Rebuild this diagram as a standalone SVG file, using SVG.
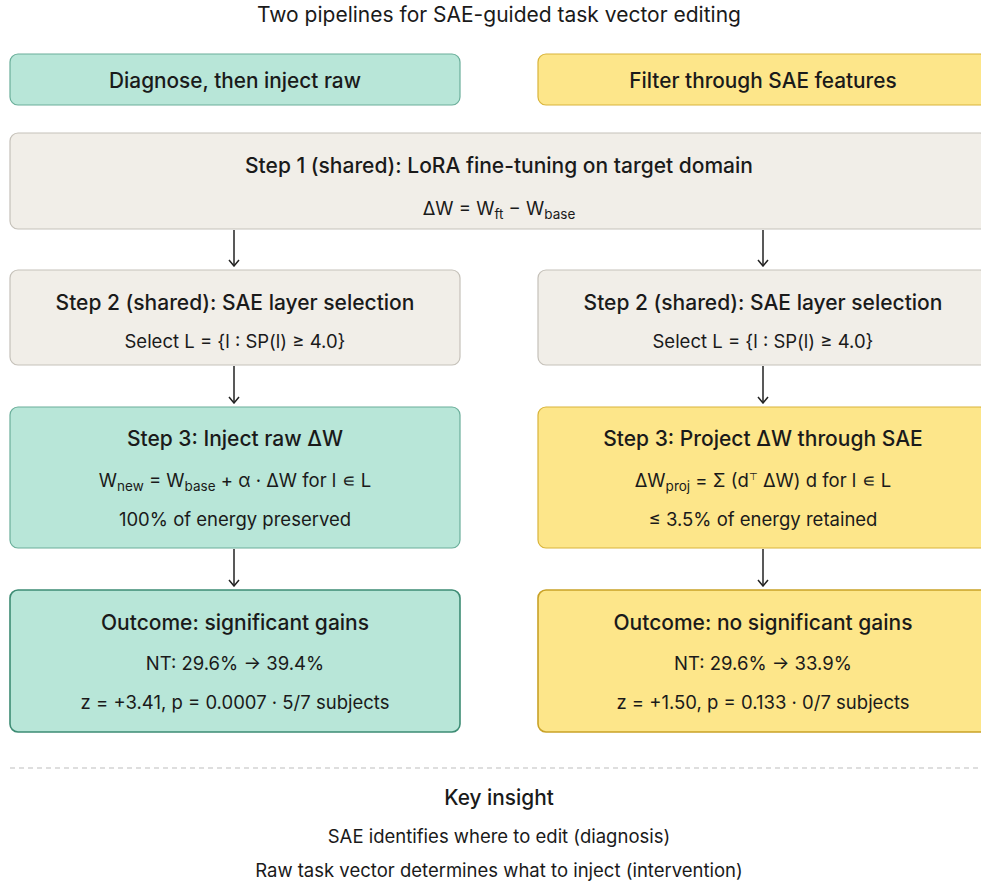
<svg xmlns="http://www.w3.org/2000/svg" width="981" height="882" viewBox="0 0 981 882">
<defs>
<style>
text{font-family:Inter,"Noto Sans","Liberation Sans",sans-serif;fill:#1a1a1a;text-anchor:middle}
.t{font-size:21px;font-weight:500}
.s{font-size:18.5px}
.h{font-size:20.8px;font-weight:500}
.sub{font-size:13.5px}
.teal{fill:#b8e6d8;stroke:#6aae9a;stroke-width:1.2}
.tealD{fill:#b8e6d8;stroke:#3d8c74;stroke-width:1.6}
.yel{fill:#fde68a;stroke:#d9b43a;stroke-width:1.2}
.yelD{fill:#fde68a;stroke:#c9a227;stroke-width:1.6}
.gray{fill:#f1eee8;stroke:#c5c1b9;stroke-width:1.2}
.arr{stroke:#222;stroke-width:1.5;fill:none;marker-end:url(#ah)}
</style>
<marker id="ah" viewBox="0 0 12 12" refX="11" refY="6" markerWidth="12" markerHeight="12" markerUnits="userSpaceOnUse" orient="auto">
<path d="M5,1 L11,6 L5,11" fill="none" stroke="#222" stroke-width="1.5"/>
</marker>
</defs>
<rect width="981" height="882" fill="#ffffff"/>
<text x="499" y="22" style="font-size:21px">Two pipelines for SAE-guided task vector editing</text>

<g id="header-left">
<rect class="teal" x="10" y="54" width="450" height="51" rx="8"/>
<text class="h" x="235" y="88">Diagnose, then inject raw</text>
</g>
<g id="header-right">
<rect class="yel" x="538" y="54" width="450" height="51" rx="8"/>
<text class="h" x="763" y="88">Filter through SAE features</text>
</g>

<g id="step1">
<rect class="gray" x="10" y="133" width="978" height="96" rx="8"/>
<text class="t" x="499" y="173">Step 1 (shared): LoRA fine-tuning on target domain</text>
<text class="s" x="499" y="215">ΔW = W<tspan class="sub" dy="4">ft</tspan><tspan dy="-4"> − W</tspan><tspan class="sub" dy="4">base</tspan></text>
</g>

<g id="step2-left">
<rect class="gray" x="10" y="270" width="450" height="95" rx="8"/>
<text class="t" x="235" y="310">Step 2 (shared): SAE layer selection</text>
<text class="s" x="235" y="348">Select L = {l : SP(l) ≥ 4.0}</text>
</g>
<g id="step2-right">
<rect class="gray" x="538" y="270" width="450" height="95" rx="8"/>
<text class="t" x="763" y="310">Step 2 (shared): SAE layer selection</text>
<text class="s" x="763" y="348">Select L = {l : SP(l) ≥ 4.0}</text>
</g>

<g id="step3-left">
<rect class="teal" x="10" y="407" width="450" height="141" rx="8"/>
<text class="t" x="235" y="446">Step 3: Inject raw ΔW</text>
<text class="s" x="235" y="487">W<tspan class="sub" dy="4">new</tspan><tspan dy="-4"> = W</tspan><tspan class="sub" dy="4">base</tspan><tspan dy="-4"> + α · ΔW for l ∊ L</tspan></text>
<text class="s" x="235" y="526">100% of energy preserved</text>
</g>
<g id="step3-right">
<rect class="yel" x="538" y="407" width="450" height="141" rx="8"/>
<text class="t" x="763" y="446">Step 3: Project ΔW through SAE</text>
<text class="s" x="763" y="487">ΔW<tspan class="sub" dy="4">proj</tspan><tspan dy="-4"> = Σ (d</tspan><tspan style="font-size:10px" dy="-7">⊤</tspan><tspan dy="7"> ΔW) d for l ∊ L</tspan></text>
<text class="s" x="763" y="526">≤ 3.5% of energy retained</text>
</g>

<g id="outcome-left">
<rect class="tealD" x="10" y="590" width="450" height="142" rx="8"/>
<text class="t" x="235" y="630">Outcome: significant gains</text>
<text class="s" x="235" y="670">NT: 29.6% → 39.4%</text>
<text class="s" x="235" y="709">z = +3.41, p = 0.0007 · 5/7 subjects</text>
</g>
<g id="outcome-right">
<rect class="yelD" x="538" y="590" width="450" height="142" rx="8"/>
<text class="t" x="763" y="630">Outcome: no significant gains</text>
<text class="s" x="763" y="670">NT: 29.6% → 33.9%</text>
<text class="s" x="763" y="709">z = +1.50, p = 0.133 · 0/7 subjects</text>
</g>

<g id="connectors">
<line class="arr" x1="234" y1="230" x2="234" y2="266"/>
<line class="arr" x1="763" y1="230" x2="763" y2="266"/>
<line class="arr" x1="234" y1="366" x2="234" y2="403"/>
<line class="arr" x1="763" y1="366" x2="763" y2="403"/>
<line class="arr" x1="234" y1="549" x2="234" y2="586"/>
<line class="arr" x1="763" y1="549" x2="763" y2="586"/>
</g>

<line x1="10" y1="768" x2="990" y2="768" stroke="#bdbdbd" stroke-width="1.2" stroke-dasharray="5,4"/>
<g id="key-insight">
<text x="499" y="805" style="font-size:20.8px;font-weight:500">Key insight</text>
<text class="s" x="499" y="843">SAE identifies where to edit (diagnosis)</text>
<text class="s" x="499" y="877">Raw task vector determines what to inject (intervention)</text>
</g>
</svg>
